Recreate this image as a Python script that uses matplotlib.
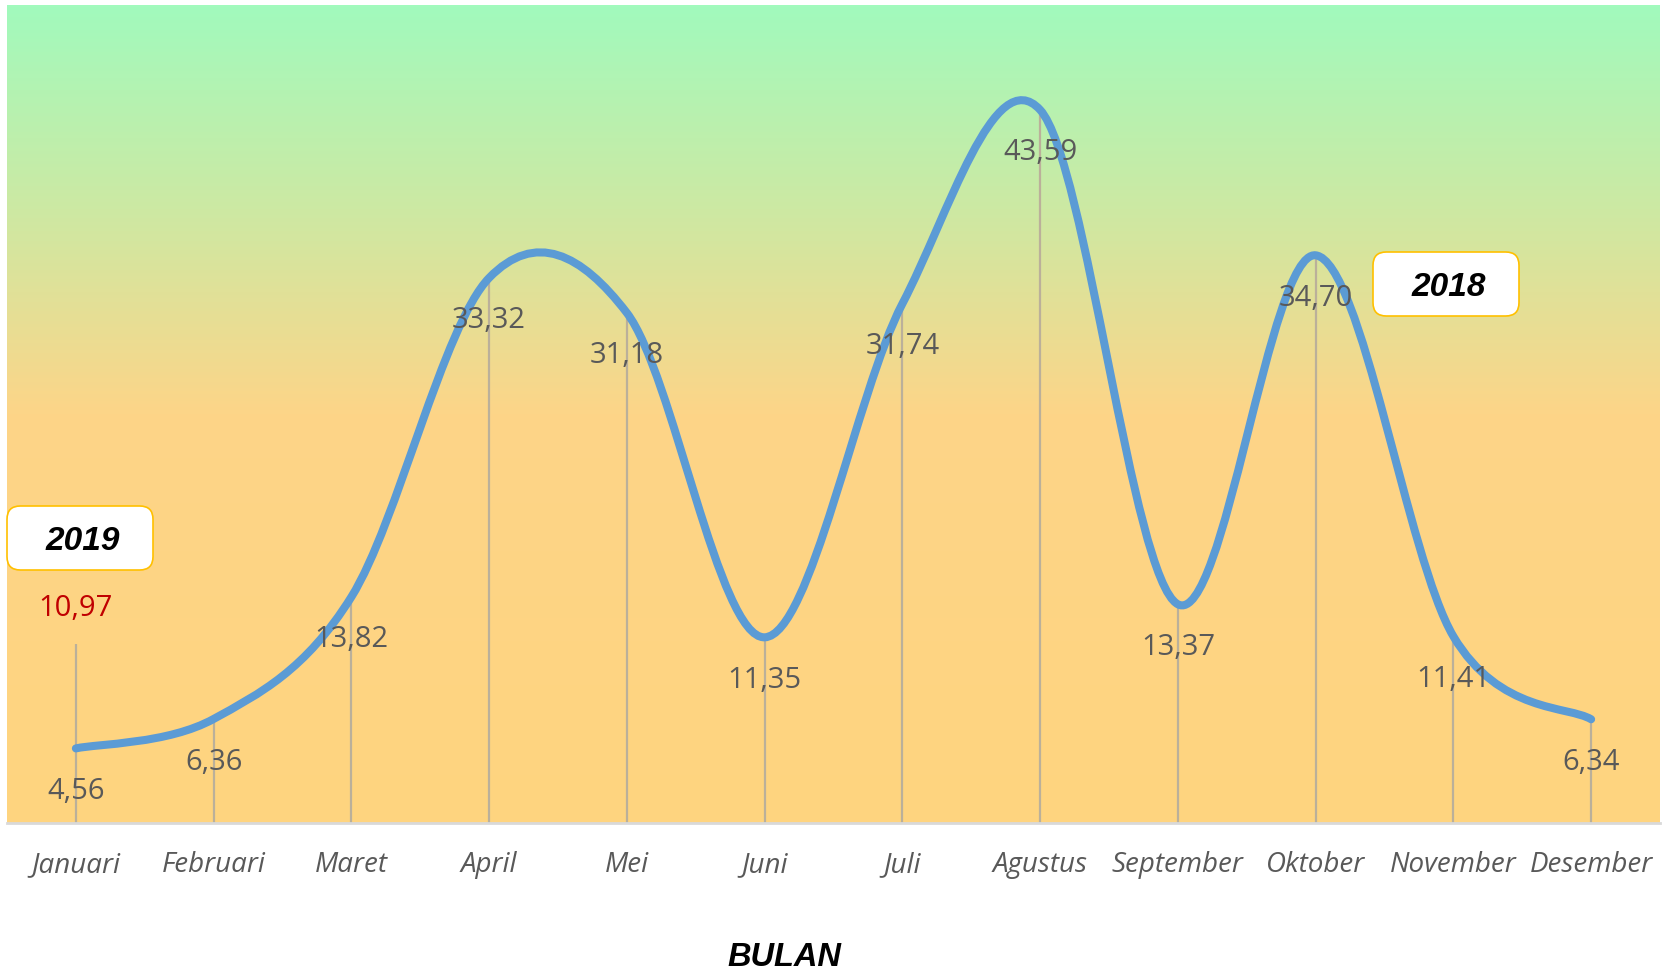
import numpy as np
import matplotlib.pyplot as plt
from matplotlib.path import Path
from matplotlib.patches import PathPatch, FancyBboxPatch
from matplotlib.colors import LinearSegmentedColormap

# data
months = ['Januari', 'Februari', 'Maret', 'April', 'Mei', 'Juni', 'Juli',
          'Agustus', 'September', 'Oktober', 'November', 'Desember']
values_2018 = [4.56, 6.36, 13.82, 33.32, 31.18, 11.35, 31.74,
               43.59, 13.37, 34.70, 11.41, 6.34]
values_2019 = [10.97]  # only Januari


def fmt(v):
    return f'{v:.2f}'.replace('.', ',')


def smooth_path(xs, ys):
    # excel-like smoothed line: cubic bezier through every point
    pts = np.column_stack([xs, ys])
    n = len(pts)
    verts = [pts[0]]
    codes = [Path.MOVETO]
    for i in range(n - 1):
        p0 = pts[i - 1] if i > 0 else pts[i]
        p1 = pts[i]
        p2 = pts[i + 1]
        p3 = pts[i + 2] if i + 2 < n else pts[i + 1]
        c1 = p1 + (p2 - p0) / 6.0
        c2 = p2 - (p3 - p1) / 6.0
        verts += [c1, c2, p2]
        codes += [Path.CURVE4] * 3
    return Path(verts, codes)


W, H = 1662, 971
fig = plt.figure(figsize=(W / 100, H / 100), dpi=100)
ax = fig.add_axes([7 / W, (H - 823) / H, 1653 / W, 818 / H])

x = np.arange(len(months))
ax.set_xlim(-0.5, len(months) - 0.5)
ax.set_ylim(0, 50)

# gradient background (green on top, orange below)
cmap = LinearSegmentedColormap.from_list(
    'bg', [(0.0, '#A1FABD'), (0.25, '#CDE9A3'), (0.5, '#FDD588'), (1.0, '#FFD47F')])
grad = np.linspace(1, 0, 256).reshape(-1, 1)
ax.imshow(grad, cmap=cmap, aspect='auto', extent=[-0.5, len(months) - 0.5, 0, 50],
          origin='lower', zorder=0, vmin=0, vmax=1)

# drop lines up to the highest value of both years
tops = list(values_2018)
for i, v in enumerate(values_2019):
    tops[i] = max(tops[i], v)
ax.vlines(x, 0, tops, color='#BBB09A', lw=1.6, zorder=1)

# smoothed 2018 line
patch = PathPatch(smooth_path(x, values_2018), facecolor='none', edgecolor='#5B9BD5',
                  lw=5.8, capstyle='round', zorder=3)
ax.add_patch(patch)

for xi, v in zip(x, values_2018):
    ax.annotate(fmt(v), (xi, v), xytext=(0, -31), textcoords='offset points',
                ha='center', va='center', fontsize=21, color='#595959',
                family='Open Sans', zorder=4)
for xi, v in zip(x, values_2019):
    ax.annotate(fmt(v), (xi, v), xytext=(0, 25), textcoords='offset points',
                ha='center', va='center', fontsize=21, color='#C00000',
                family='Open Sans', zorder=4)

# axes styling
ax.set_xticks(x)
ax.set_xticklabels(months, fontsize=20, style='italic', color='#595959', family='Open Sans')
ax.tick_params(axis='x', length=0, pad=20)
ax.set_yticks([])
for s in ['top', 'left', 'right']:
    ax.spines[s].set_visible(False)
ax.spines['bottom'].set_color('#D9D9D9')
ax.spines['bottom'].set_linewidth(2)

fig.text(784 / W, 1 - 957 / H, 'BULAN', ha='center', va='center', fontsize=23.5,
         fontweight='bold', style='italic', family='Liberation Sans', color='black')

# year boxes
asp = W / H
for label, left, top in [('2019', 7, 506), ('2018', 1373, 252)]:
    bw, bh = 146, 64
    box = FancyBboxPatch((left / W, 1 - (top + bh) / H), bw / W, bh / H,
                         boxstyle='round,pad=0,rounding_size=0.008',
                         mutation_aspect=asp, transform=fig.transFigure,
                         facecolor='white', edgecolor='#FFC000', lw=1.2, zorder=5)
    fig.add_artist(box)
    fig.text((left + bw / 2 + 3) / W, 1 - (top + bh / 2 + 3) / H, label,
             ha='center', va='center', fontsize=24, fontweight='bold', style='italic',
             family='Liberation Sans', color='black', zorder=6)

fig.savefig('out.png', dpi=100)
